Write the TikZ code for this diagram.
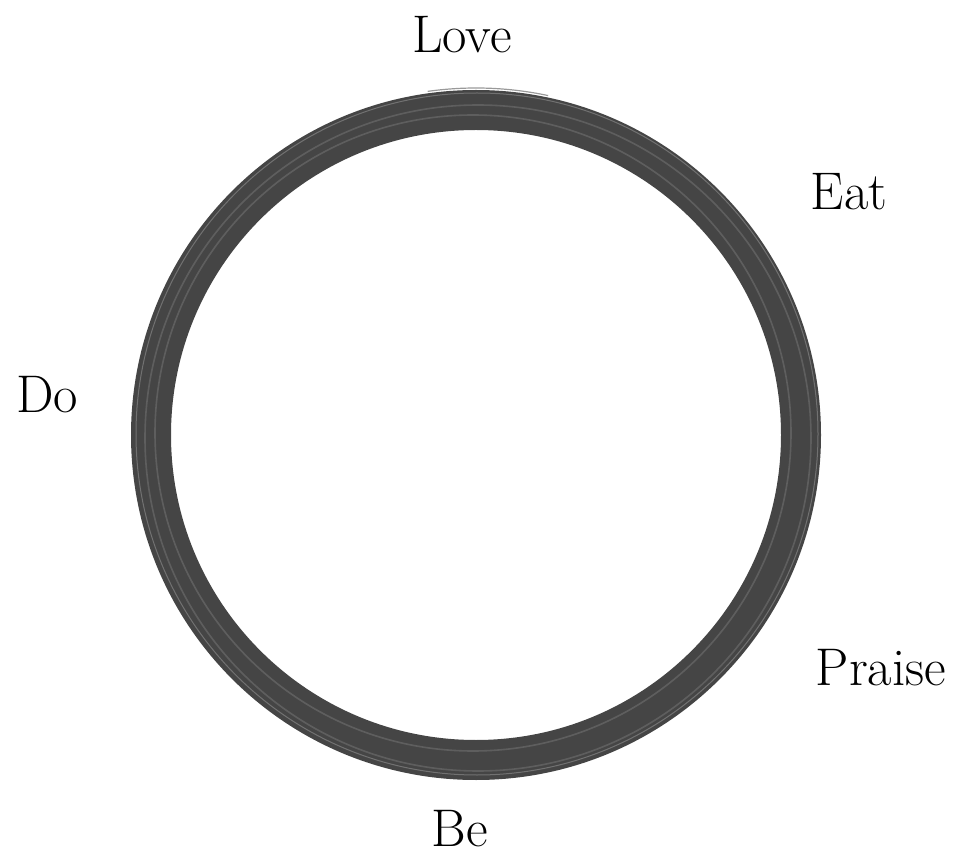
\documentclass[tikz,border=0pt]{standalone}
\usepackage{tikz}
\definecolor{ring}{HTML}{454545}
\definecolor{streak}{HTML}{6A6A6A}
\begin{document}
\begin{tikzpicture}[x=1pt,y=-1pt,
  lbl/.style={font=\fontsize{53}{60}\selectfont, anchor=base, inner sep=0pt, text=black},
  ringstroke/.style={draw=ring, line width=40pt},
  streakstroke/.style={draw=streak, line width=1.6pt, opacity=0.7}]
\useasboundingbox (0,0) rectangle (959,858);
\coordinate (c) at (476,435);
\path[ringstroke] (c) circle[radius=325];
% brush texture
\path[streakstroke] ([xshift=2pt,yshift=-3pt]c) circle[radius=333];
\path[streakstroke] ([xshift=-3pt,yshift=2pt]c) circle[radius=318];
\path[draw=ring!60, line width=1pt, opacity=0.6] ([xshift=1pt,yshift=1pt]c) circle[radius=341];
\path[draw=ring!55, line width=1.2pt] (c) ++(262:347) arc[start angle=262, end angle=282, radius=347];
\node[lbl] (love) at (462,53) {Love};
\node[lbl] (eat) at (849,210) {Eat};
\node[lbl] (do) at (47,413) {Do};
\node[lbl] (praise) at (881,685) {Praise};
\node[lbl] (be) at (460,846) {Be};
\end{tikzpicture}
\end{document}
